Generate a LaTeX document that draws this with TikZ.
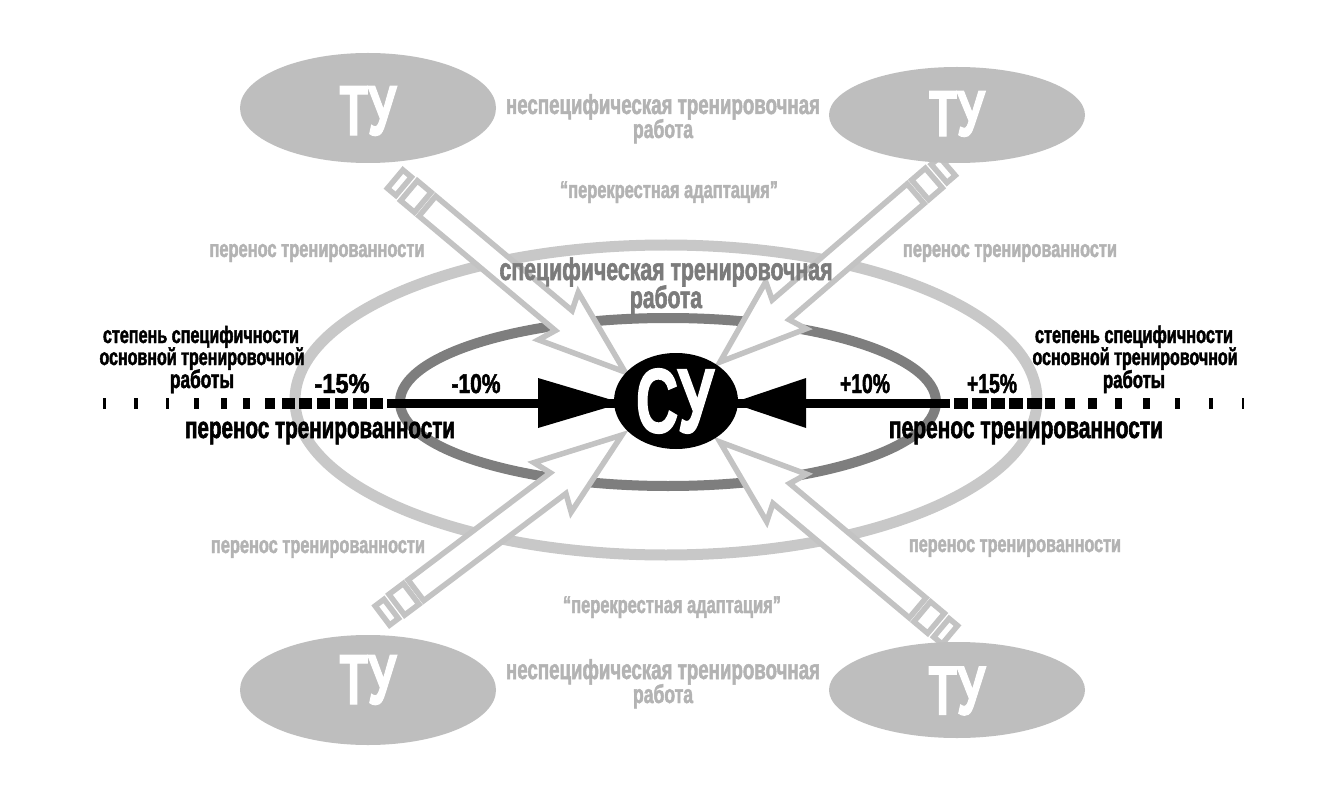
\documentclass[tikz,border=0pt]{standalone}
\usepackage{fontspec}
\usepackage{graphicx}
\newfontfamily\cfa{Liberation Sans}[FakeStretch=0.68,FakeBold=1.8]
\newfontfamily\cfn{Liberation Sans}[FakeStretch=0.77,FakeBold=1.8]
\newfontfamily\cfb{Liberation Sans}[FakeStretch=0.68,FakeBold=1.5]
\newcommand\fw[2]{\resizebox{#1pt}{!}{#2}}
\newcommand\fwh[3]{\resizebox{#1pt}{#2pt}{#3}}
\definecolor{ellout}{HTML}{C8C8C8}
\definecolor{ellin}{HTML}{7E7E7E}
\definecolor{tuf}{HTML}{BEBEBE}
\definecolor{arrg}{HTML}{C3C3C3}
\definecolor{gtxt}{HTML}{B3B3B3}
\definecolor{dtxt}{HTML}{7B7B7B}
\newcommand\hollowarrow{%
  \filldraw[harrow] (0,0) -- (-87,31) -- (-80,13) -- (-258,13) -- (-258,-13) -- (-80,-13) -- (-87,-31) -- cycle;
  \filldraw[harrow] (-282,-13) rectangle (-264,13);
  \filldraw[harrow] (-300,-12) rectangle (-289,12);}
\tikzset{
  harrow/.style={draw=arrg, fill=white, line width=5.5pt, line join=miter},
  lbl/.style={inner sep=0pt, anchor=base},
  txa/.style={lbl, font=\cfa\bfseries\fontsize{30}{30}\selectfont},
  txn/.style={lbl, font=\cfn\bfseries\fontsize{30}{30}\selectfont, text=black},
  tub/.style={inner sep=0pt, font=\cfb\bfseries\fontsize{60}{60}\selectfont, text=white},
  tuell/.style={fill=tuf, draw=none},
  dashbox/.style={fill=black, draw=none}
}
\begin{document}
\begin{tikzpicture}[x=1pt,y=-1pt]
\useasboundingbox (0,0) rectangle (1341,802);
\fill[white] (0,0) rectangle (1341,802);
% ellipses
\draw[ellout, line width=11pt] (666,400) ellipse [x radius=371, y radius=155];
\draw[ellin, line width=10pt] (668,402) ellipse [x radius=268, y radius=84];
% hollow arrows
\begin{scope}[shift={(625,372)}, rotate=-40]\hollowarrow\end{scope}
\begin{scope}[shift={(720,362)}, rotate=-139.3]\hollowarrow\end{scope}
\begin{scope}[shift={(622,435)}, rotate=37]\hollowarrow\end{scope}
\begin{scope}[shift={(720,442)}, rotate=140]\hollowarrow\end{scope}
% TU ellipses
\fill[tuell] (368,108) ellipse [x radius=128, y radius=55];
\fill[tuell] (957,115) ellipse [x radius=128, y radius=48];
\fill[tuell] (368,690) ellipse [x radius=128, y radius=55];
\fill[tuell] (957,690) ellipse [x radius=128, y radius=48];
\node[tub] (tu1) at (368,111) {\fwh{57}{49}{ТУ}};
\node[tub] (tu2) at (957,114) {\fwh{56}{45}{ТУ}};
\node[tub] (tu3) at (368,680) {\fwh{57}{49}{ТУ}};
\node[tub] (tu4) at (957,691) {\fwh{57}{48}{ТУ}};
% black axis
\draw[black, line width=9pt] (387,403) -- (950,403);
\foreach \a/\b in {103/106,134/138,166/169,194/199,221/227,243/250,265/275,282/295,299/312,317/330,335/348,353/367,370/383,
                   954/968,972/987,991/1005,1009/1023,1027/1042,1045/1055,1065/1075,1088/1097,1115/1122,1143/1150,1175/1180,1209/1213,1242/1244}
  \fill[dashbox] (\a,397.5) rectangle (\b,408.5);
\fill[black] (538,378) -- (622,403) -- (538,428) -- cycle;
\fill[black] (806,378) -- (732,403) -- (806,428) -- cycle;
\fill[black] (676,401) ellipse [x radius=62, y radius=48];
\node[tub] (su) at (675,401) {\fwh{78}{64}{СУ}};
% texts
\node[txa, text=gtxt] (ns1) at (663,114) {\fw{314}{неспецифическая тренировочная}};
\node[txa, text=gtxt] (ns2) at (663,138) {\fw{60}{работа}};
\node[txa, text=gtxt] (pa1) at (669,198) {\fw{218}{“перекрестная адаптация”}};
\node[txa, text=dtxt] (sp1) at (666,280) {\fw{333}{специфическая тренировочная}};
\node[txa, text=dtxt] (sp2) at (666,308) {\fw{72}{работа}};
\node[txa, text=gtxt] (pt1) at (317,257) {\fw{215}{перенос тренированности}};
\node[txa, text=gtxt] (pt2) at (1010,257) {\fw{214}{перенос тренированности}};
\node[txa, text=gtxt] (pt3) at (318,553) {\fw{214}{перенос тренированности}};
\node[txa, text=gtxt] (pt4) at (1015,552) {\fw{212}{перенос тренированности}};
\node[txa, text=black] (sl1) at (201,343) {\fw{196}{степень специфичности}};
\node[txa, text=black] (sl2) at (202,365) {\fw{205}{основной тренировочной}};
\node[txa, text=black] (sl3) at (202,388) {\fw{64}{работы}};
\node[txa, text=black] (sr1) at (1134,343) {\fw{198}{степень специфичности}};
\node[txa, text=black] (sr2) at (1135,365) {\fw{205}{основной тренировочной}};
\node[txa, text=black] (sr3) at (1134,388) {\fw{62}{работы}};
\node[txn] (m15) at (342,393) {\fwh{55}{19}{-15\%}};
\node[txn] (m10) at (476,393) {\fwh{49}{19}{-10\%}};
\node[txn] (p10) at (865,393) {\fwh{50}{19}{+10\%}};
\node[txn] (p15) at (992,393) {\fwh{50}{19}{+15\%}};
\node[txa, text=black] (bl) at (320,438) {\fw{270}{перенос тренированности}};
\node[txa, text=black] (br) at (1026,438) {\fw{274}{перенос тренированности}};
\node[txa, text=gtxt] (pa2) at (672,613) {\fw{218}{“перекрестная адаптация”}};
\node[txa, text=gtxt] (nb1) at (663,679) {\fw{314}{неспецифическая тренировочная}};
\node[txa, text=gtxt] (nb2) at (663,703) {\fw{60}{работа}};
\end{tikzpicture}
\end{document}
